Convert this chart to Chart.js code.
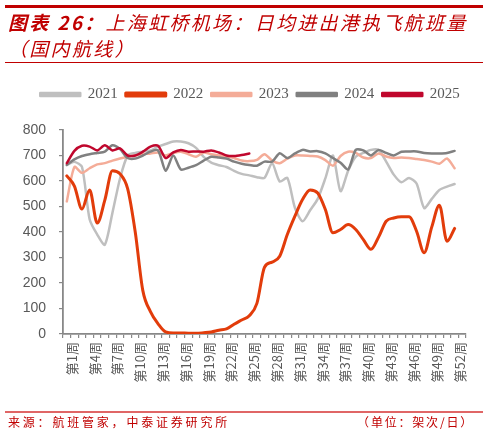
<!DOCTYPE html>
<html>
<head>
<meta charset="utf-8">
<script src="https://cdn.jsdelivr.net/npm/chart.js@4.4.1/dist/chart.umd.min.js"></script>
<style>
  html, body { margin:0; padding:0; background:#fff; }
  #wrap { position:relative; width:488px; height:435px; overflow:hidden; }
  #c { position:absolute; left:0; top:0; }
  .rule { position:absolute; left:5px; width:478px; }
  .title { position:absolute; left:8px; top:9px; color:#C00000; font-family:"Noto Sans CJK SC","Noto Sans",sans-serif; font-size:19px; line-height:26px; font-style:italic; letter-spacing:2.3px; white-space:nowrap; }
  .foot { position:absolute; top:413px; color:#C00000; font-family:"Noto Sans CJK SC",sans-serif; font-size:12px; line-height:18px; white-space:nowrap; }
</style>
</head>
<body>
<div id="wrap">
  <canvas id="c" width="488" height="435"></canvas>
  <div class="rule" style="top:5px;height:2.5px;background:#C00000;"></div>
  <div class="title"><b>图表 26：</b>上海虹桥机场：日均进出港执飞航班量<br>（国内航线）</div>
  <div class="rule" style="top:62px;height:1px;background:#C00000;"></div>
  <div class="rule" style="top:411px;height:1.5px;background:#E06666;"></div>
  <div class="foot" style="left:8px;letter-spacing:2.8px;">来源：航班管家，中泰证券研究所</div>
  <div class="foot" style="right:14px;letter-spacing:1.8px;">（单位：架次/日）</div>
</div>
<script>
const weeks = ['第1周','第2周','第3周','第4周','第5周','第6周','第7周','第8周','第9周','第10周',
  '第11周','第12周','第13周','第14周','第15周','第16周','第17周','第18周','第19周','第20周',
  '第21周','第22周','第23周','第24周','第25周','第26周','第27周','第28周','第29周','第30周',
  '第31周','第32周','第33周','第34周','第35周','第36周','第37周','第38周','第39周','第40周',
  '第41周','第42周','第43周','第44周','第45周','第46周','第47周','第48周','第49周','第50周',
  '第51周','第52周','第53周'];

const seriesNames = ['2021','2022','2023','2024','2025'];

const y2021 = [663,675,655,450,390,350,475,610,700,710,715,720,735,745,755,755,748,730,695,672,
  662,655,640,628,622,615,612,670,598,612,495,442,485,530,610,700,560,640,695,710,
  722,722,676,625,595,612,590,494,530,565,578,588];
const y2022 = [620,580,490,565,435,525,640,628,570,400,170,88,40,8,4,4,3,3,5,8,
  15,20,38,55,72,120,262,282,305,390,462,527,565,553,488,397,410,429,410,370,
  332,380,442,455,460,460,403,319,420,505,364,414];
const y2023 = [520,655,632,650,665,670,680,688,695,700,705,708,712,700,710,715,705,695,712,705,
  700,696,690,680,678,683,705,680,670,688,700,700,698,696,682,660,698,715,710,692,
  690,708,696,690,692,690,686,682,676,668,688,650];
const y2024 = [663,685,698,705,710,715,740,725,690,688,700,715,720,640,700,645,652,662,680,695,
  692,688,676,668,663,660,676,676,709,690,708,722,716,717,708,690,672,645,722,720,
  700,722,710,700,715,716,716,710,708,708,710,718];
const y2025 = [670,718,738,735,720,740,720,728,700,700,715,735,738,690,712,722,715,716,715,720,
  712,700,698,702,708];

const yTicks = [0,100,200,300,400,500,600,700,800];

const colors = ['#BFBFBF','#E23C0B','#F4AC98','#808080','#C0072D'];
const seriesData = [y2021,y2022,y2023,y2024,y2025];
const drawOrder = [4,1,3,2,0];
const widths = [2.5,3,2.5,2.5,2.5];

const legendSpacer = {
  id: 'legendSpacer',
  beforeInit(chart) {
    if (chart.legend) {
      const orig = chart.legend.fit;
      chart.legend.fit = function() { orig.call(this); this.height += 18; };
    }
  },
  afterLayout(chart) {
    if (chart.legend) { chart.legend.left += 7; chart.legend.right += 7; }
  }
};

new Chart(document.getElementById('c'), {
  type: 'line',
  data: {
    labels: weeks,
    datasets: seriesNames.map((n, i) => ({
      label: n,
      data: seriesData[i],
      borderColor: colors[i],
      backgroundColor: colors[i],
      borderWidth: widths[i],
      pointRadius: 0,
      fill: false,
      order: drawOrder[i],
      tension: i === 1 ? 0.4 : 0.25,
      cubicInterpolationMode: i === 1 ? 'monotone' : 'default',
      borderCapStyle: 'round',
      borderJoinStyle: 'round'
    }))
  },
  options: {
    responsive: false,
    animation: false,
    layout: { padding: { top: 79, left: 20, right: 22, bottom: 33 } },
    plugins: {
      legend: {
        position: 'top',
        labels: {
          boxWidth: 40, boxHeight: 3, padding: 8,
          color: '#595959',
          font: { family: '"Liberation Serif", serif', size: 15 },
          sort: (a, b) => a.datasetIndex - b.datasetIndex
        }
      },
      tooltip: { enabled: false }
    },
    scales: {
      x: {
        type: 'category',
        offset: true,
        grid: { offset: true, drawOnChartArea: false, drawTicks: true, tickLength: 4, color: '#888', lineWidth: 1.2 },
        border: { display: true, color: '#888', width: 1.8 },
        ticks: {
          autoSkip: false, maxRotation: 90, minRotation: 90, padding: 4, labelOffset: 5,
          color: '#595959',
          font: { family: '"Noto Sans CJK SC", sans-serif', size: 13 },
          callback: function(v, i) { return i % 3 === 0 ? this.getLabelForValue(v) : ''; }
        },
        afterFit(s) { s.height = 68; }
      },
      y: {
        min: 0, max: 800,
        afterBuildTicks(s) { s.ticks = yTicks.map(v => ({ value: v })); },
        grid: { drawOnChartArea: false, drawTicks: true, tickLength: 4, color: '#888', lineWidth: 1.2 },
        border: { display: true, color: '#888', width: 1.8 },
        ticks: { padding: 13, color: '#595959', font: { family: '"Liberation Sans", Arial, sans-serif', size: 14 } },
        afterFit(s) { s.width = 43; }
      }
    }
  },
  plugins: [legendSpacer]
});
</script>
</body>
</html>
